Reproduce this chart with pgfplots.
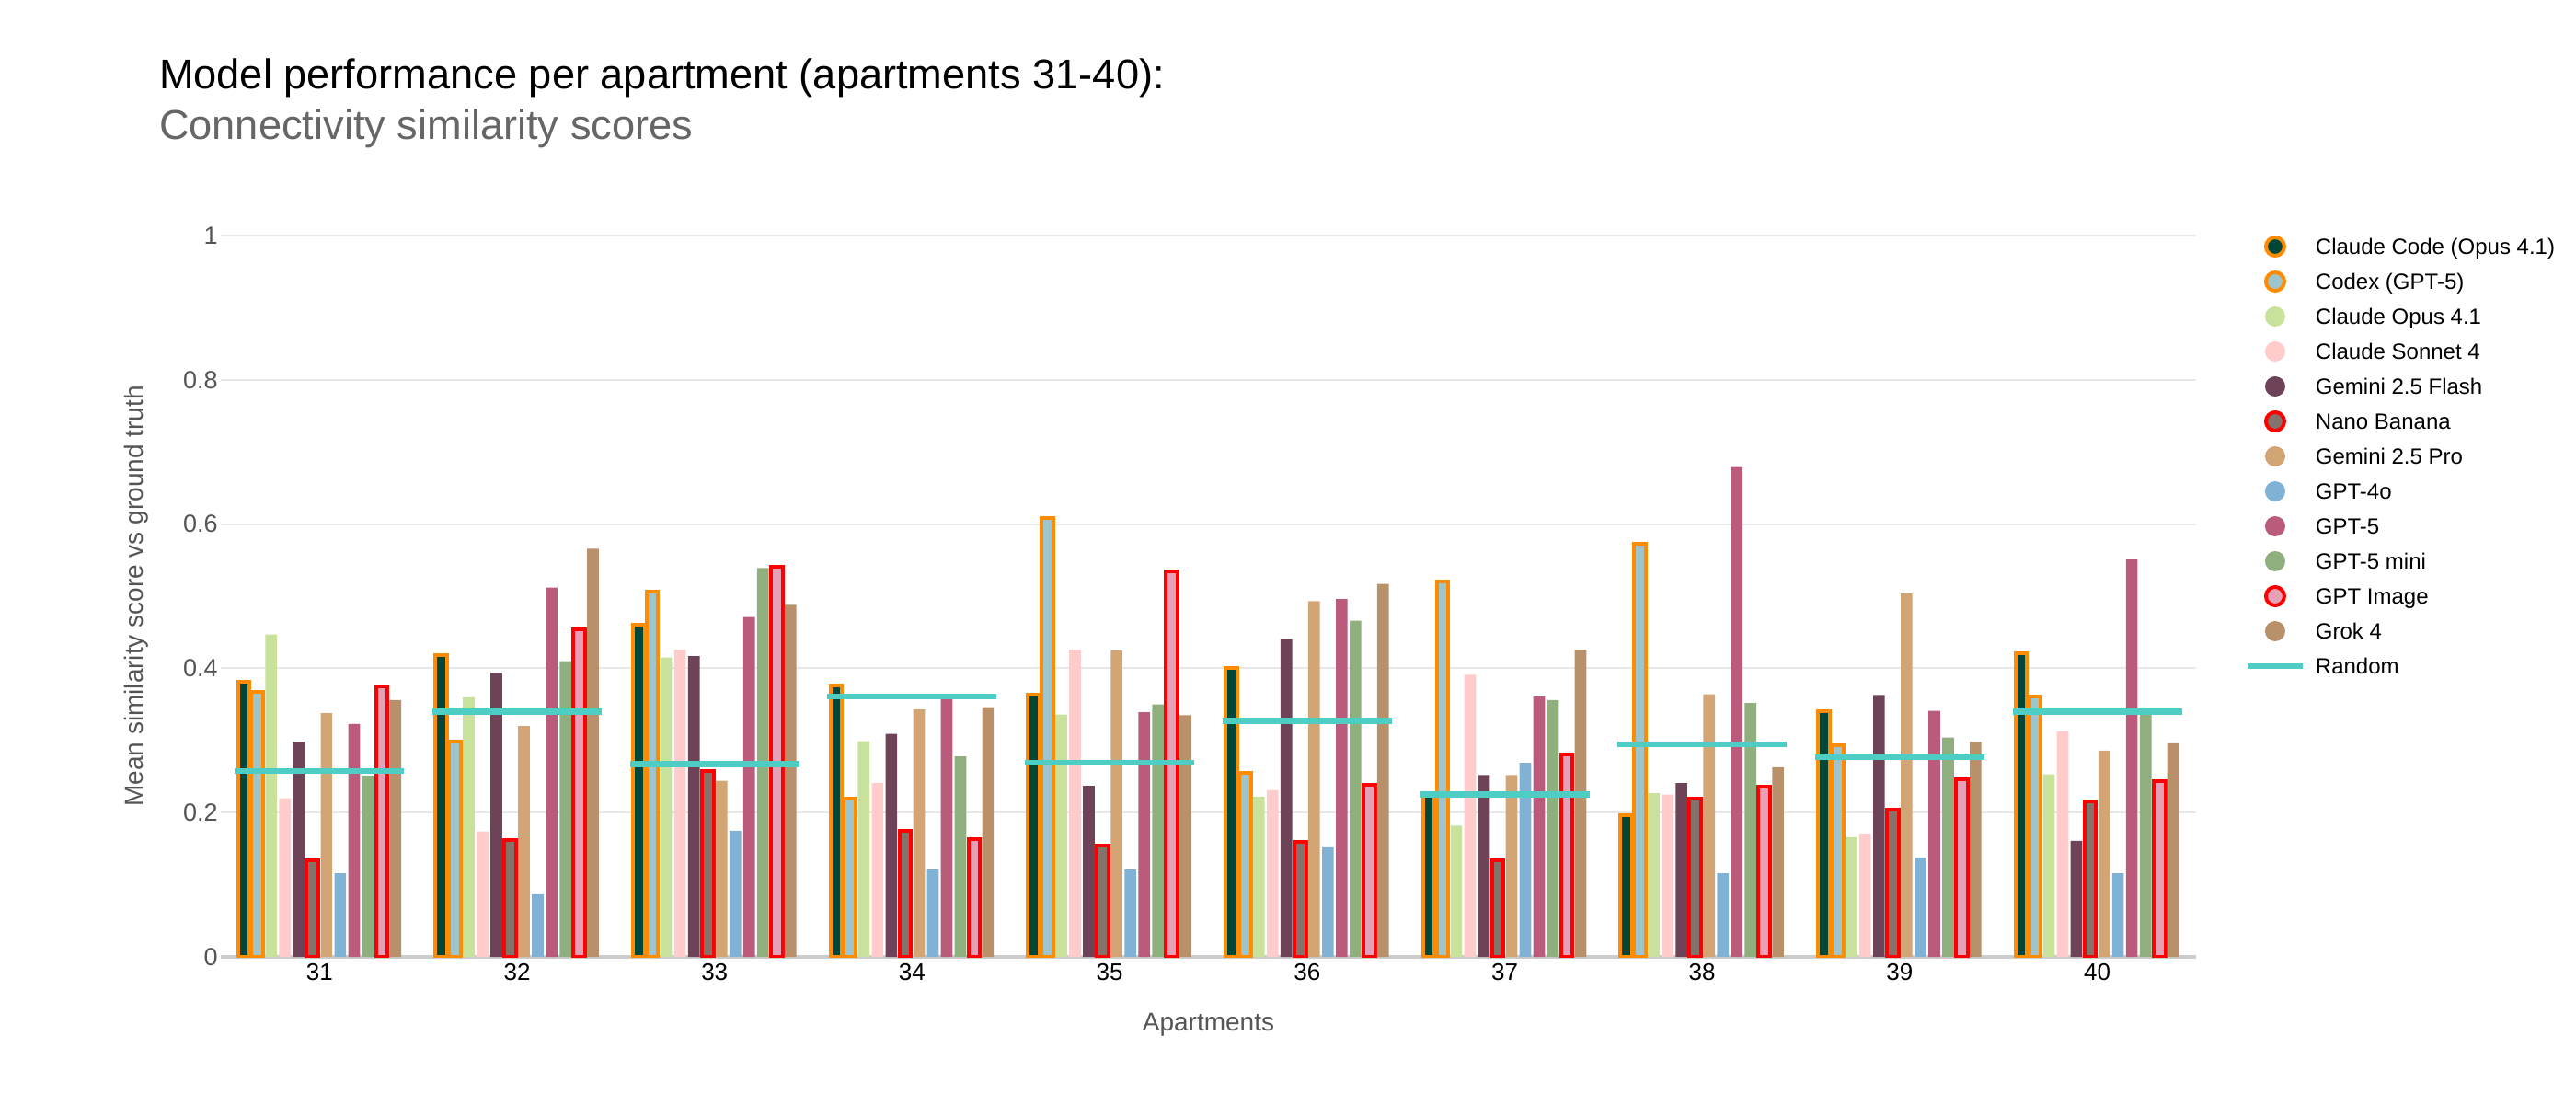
\documentclass[border=0pt]{standalone}
\usepackage{fontspec}
\setmainfont{Liberation Sans}
\usepackage{pgfplots}
\usepackage{pgfplotstable}
\pgfplotsset{compat=1.18}

\definecolor{ccfill}{HTML}{00473A}
\definecolor{codexfill}{HTML}{9EC5CC}
\definecolor{opusfill}{HTML}{C8E29B}
\definecolor{sonnetfill}{HTML}{FFCCCB}
\definecolor{flashfill}{HTML}{6E4358}
\definecolor{nanofill}{HTML}{83736A}
\definecolor{profill}{HTML}{D4A574}
\definecolor{fourofill}{HTML}{7FB2D4}
\definecolor{gptfivefill}{HTML}{BA5B7B}
\definecolor{minifill}{HTML}{8FAF7F}
\definecolor{imagefill}{HTML}{E6A0B8}
\definecolor{grokfill}{HTML}{B8906A}
\definecolor{randomc}{HTML}{4ECDC4}
\definecolor{orangeb}{HTML}{FF8C00}
\definecolor{redb}{HTML}{FF0000}
\definecolor{gridc}{HTML}{E8E8E8}
\definecolor{basec}{HTML}{CCCCCC}
\definecolor{greytext}{HTML}{555555}
\definecolor{subtitle}{HTML}{666666}

% connectivity similarity, apartments 31-40 (x = 0..9)
\pgfplotstableread{
x cc    codex opus  sonnet flash nano  pro   gptfo gptf  mini  image grok  random
0 0.382 0.367 0.447 0.220  0.298 0.134 0.338 0.116 0.323 0.251 0.375 0.356 0.258
1 0.419 0.298 0.360 0.174  0.394 0.162 0.320 0.087 0.512 0.410 0.454 0.566 0.340
2 0.461 0.507 0.415 0.426  0.417 0.258 0.244 0.175 0.471 0.539 0.541 0.488 0.267
3 0.376 0.220 0.299 0.241  0.309 0.175 0.343 0.121 0.359 0.278 0.163 0.346 0.361
4 0.363 0.608 0.336 0.426  0.237 0.154 0.425 0.121 0.339 0.350 0.534 0.335 0.269
5 0.400 0.255 0.222 0.231  0.441 0.160 0.493 0.152 0.496 0.466 0.238 0.517 0.327
6 0.226 0.520 0.182 0.391  0.252 0.134 0.252 0.269 0.361 0.356 0.280 0.426 0.225
7 0.197 0.573 0.227 0.225  0.241 0.220 0.364 0.116 0.679 0.352 0.236 0.263 0.295
8 0.341 0.293 0.166 0.171  0.363 0.204 0.504 0.138 0.341 0.304 0.246 0.298 0.277
9 0.421 0.361 0.253 0.313  0.161 0.216 0.286 0.116 0.551 0.339 0.244 0.296 0.340
}\data

\pgfplotsset{
  dot/.style={legend image code/.code={
      \path[draw=none, fill=none] (-15pt,-6pt) rectangle (15pt,6pt);
      \path[draw=none, fill=#1] (0,0) circle (5.5pt);}},
  ringdot/.style 2 args={legend image code/.code={
      \path[draw=none, fill=none] (-15pt,-6pt) rectangle (15pt,6pt);
      \path[fill=#1, draw=#2, line width=2pt] (0,0) circle (5pt);}},
  plainbar/.style={ybar, bar width=0.059, fill=#1, draw=none, dot=#1},
  ringbar/.style 2 args={ybar, bar width=0.059, fill=#1, draw=#2, line width=2pt, ringdot={#1}{#2}},
}

\begin{document}
\begin{tikzpicture}
\begin{axis}[
  at={(0,0)}, anchor=south west,
  scale only axis, width=1073.5pt, height=392pt,
  xmin=-0.5, xmax=9.5, ymin=0, ymax=1,
  axis x line*=bottom, axis y line*=left,
  x axis line style={draw=basec, line width=1.6pt},
  y axis line style={draw=none},
  tick style={draw=none}, major tick length=0pt,
  xtick={0,1,2,3,4,5,6,7,8,9},
  xticklabels={31,32,33,34,35,36,37,38,39,40},
  ytick={0,0.2,0.4,0.6,0.8,1},
  ymajorgrids, grid style={draw=gridc, line width=1pt},
  xticklabel style={font=\fontsize{13}{15}\selectfont, text=black},
  yticklabel style={font=\fontsize{13.5}{15}\selectfont, text=greytext,
    inner xsep=1.5pt, /pgf/number format/assume math mode=true},
  xlabel={Apartments},
  xlabel style={at={(axis description cs:0.5,0)}, anchor=base, yshift=-40pt,
    font=\fontsize{14}{16}\selectfont, text=greytext},
  ylabel={Mean similarity score vs ground truth},
  ylabel style={at={(axis description cs:-0.0429,0.5)}, anchor=center,
    font=\fontsize{14}{16}\selectfont, text=greytext},
  legend style={at={(axis description cs:1.0247,1)}, anchor=north west,
    draw=none, fill=none, inner sep=0pt, outer sep=0pt,
    row sep=7pt, column sep=5.5pt,
    font=\fontsize{12}{14}\selectfont,
    nodes={inner sep=0pt, text height=8.6pt, text depth=0pt, anchor=west},
    cells={anchor=west}},
  legend cell align=left,
]
\addplot[ringbar={ccfill}{orangeb}, bar shift=-0.384] table[x=x,y=cc]{\data};
\addlegendentry{Claude Code (Opus 4.1)}
\addplot[ringbar={codexfill}{orangeb}, bar shift=-0.315] table[x=x,y=codex]{\data};
\addlegendentry{Codex (GPT-5)}
\addplot[plainbar=opusfill, bar shift=-0.245] table[x=x,y=opus]{\data};
\addlegendentry{Claude Opus 4.1}
\addplot[plainbar=sonnetfill, bar shift=-0.175] table[x=x,y=sonnet]{\data};
\addlegendentry{Claude Sonnet 4}
\addplot[plainbar=flashfill, bar shift=-0.105] table[x=x,y=flash]{\data};
\addlegendentry{Gemini 2.5 Flash}
\addplot[ringbar={nanofill}{redb}, bar shift=-0.035] table[x=x,y=nano]{\data};
\addlegendentry{Nano Banana}
\addplot[plainbar=profill, bar shift=0.035] table[x=x,y=pro]{\data};
\addlegendentry{Gemini 2.5 Pro}
\addplot[plainbar=fourofill, bar shift=0.105] table[x=x,y=gptfo]{\data};
\addlegendentry{GPT-4o}
\addplot[plainbar=gptfivefill, bar shift=0.175] table[x=x,y=gptf]{\data};
\addlegendentry{GPT-5}
\addplot[plainbar=minifill, bar shift=0.245] table[x=x,y=mini]{\data};
\addlegendentry{GPT-5 mini}
\addplot[ringbar={imagefill}{redb}, bar shift=0.315] table[x=x,y=image]{\data};
\addlegendentry{GPT Image}
\addplot[plainbar=grokfill, bar shift=0.384] table[x=x,y=grok]{\data};
\addlegendentry{Grok 4}
\addplot[only marks, mark=-, mark size=46pt,
  mark options={draw=randomc, line width=3.2pt},
  legend image code/.code={
    \path[draw=none, fill=none] (-15pt,-6pt) rectangle (15pt,6pt);
    \path[draw=randomc, line width=3pt] (-15pt,0) -- (15pt,0);}]
  table[x=x,y=random]{\data};
\addlegendentry{Random}
\end{axis}
\node[anchor=base west, font=\fontsize{22.6}{26}\selectfont, text=black]
  at (-37pt,471.5pt) {Model performance per apartment (apartments 31-40):};
\node[anchor=base west, font=\fontsize{22.6}{26}\selectfont, text=subtitle]
  at (-37pt,444pt) {Connectivity similarity scores};
\pgfresetboundingbox
\path[use as bounding box] (-120pt,-80pt) rectangle (1280pt,520pt);
\end{tikzpicture}
\end{document}
